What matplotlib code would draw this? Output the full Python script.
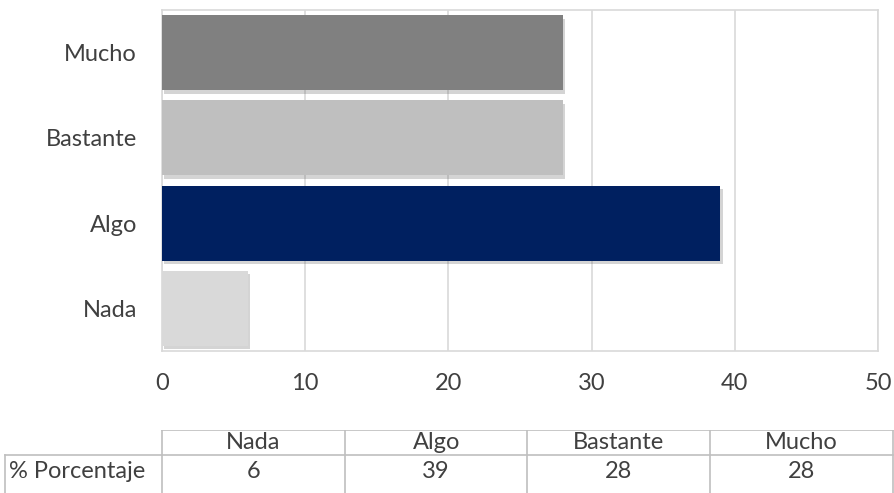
import matplotlib
matplotlib.use("Agg")
import matplotlib.pyplot as plt
import matplotlib.patheffects as pe

categories = ["Nada", "Algo", "Bastante", "Mucho"]
values = [6, 39, 28, 28]
colors = ["#D9D9D9", "#002060", "#BFBFBF", "#808080"]
row_label = "% Porcentaje"
xticks = [0, 10, 20, 30, 40, 50]

plt.rcParams['font.family'] = ['Lato', 'DejaVu Sans']
txt = "#404040"
grid = "#D9D9D9"
fs = 17

W, H = 895, 493
fig = plt.figure(figsize=(W / 100, H / 100), dpi=100)

# main bar chart
ax = fig.add_axes([162 / W, 1 - 351 / H, (878 - 162) / W, (351 - 10) / H])
bars = ax.barh(range(len(categories)), values, height=0.88, color=colors, zorder=3)
for b in bars:
    b.set_path_effects([pe.SimplePatchShadow(offset=(1.5, -2.5), alpha=0.25, shadow_rgbFace="#555555"), pe.Normal()])
ax.set_xlim(0, 50)
ax.set_ylim(-0.5, len(categories) - 0.5)
ax.set_xticks(xticks)
ax.set_yticks(range(len(categories)))
ax.set_yticklabels(categories)
ax.tick_params(length=0, labelsize=fs, colors=txt, pad=18)
ax.tick_params(axis='x', pad=16)
ax.grid(axis='x', color=grid, linewidth=1.2, zorder=0)
for s in ax.spines.values():
    s.set_color(grid)
    s.set_linewidth(1.2)

# data table below
tx = fig.add_axes([0, 0, 1, 1 - 430 / H])
tx.set_xlim(0, W)
tx.set_ylim(493, 430)
tx.axis('off')
col_edges = [162 + i * (893 - 162) / len(categories) for i in range(len(categories) + 1)]
lc = "#BFBFBF"
tx.plot([162, 893], [430.5, 430.5], color=lc, lw=1.2)
tx.plot([5, 893], [455, 455], color=lc, lw=1.2)
for xe in col_edges:
    tx.plot([xe, xe], [430, 493], color=lc, lw=1.2)
tx.plot([5, 5], [455, 493], color=lc, lw=1.2)
for i, (c, v) in enumerate(zip(categories, values)):
    xc = (col_edges[i] + col_edges[i + 1]) / 2
    tx.text(xc, 443, c, ha='center', va='center', fontsize=fs, color=txt)
    tx.text(xc, 472, str(v), ha='center', va='center', fontsize=fs, color=txt)
tx.text(9, 472, row_label, ha='left', va='center', fontsize=fs, color=txt)

fig.savefig("out.png", dpi=100)
